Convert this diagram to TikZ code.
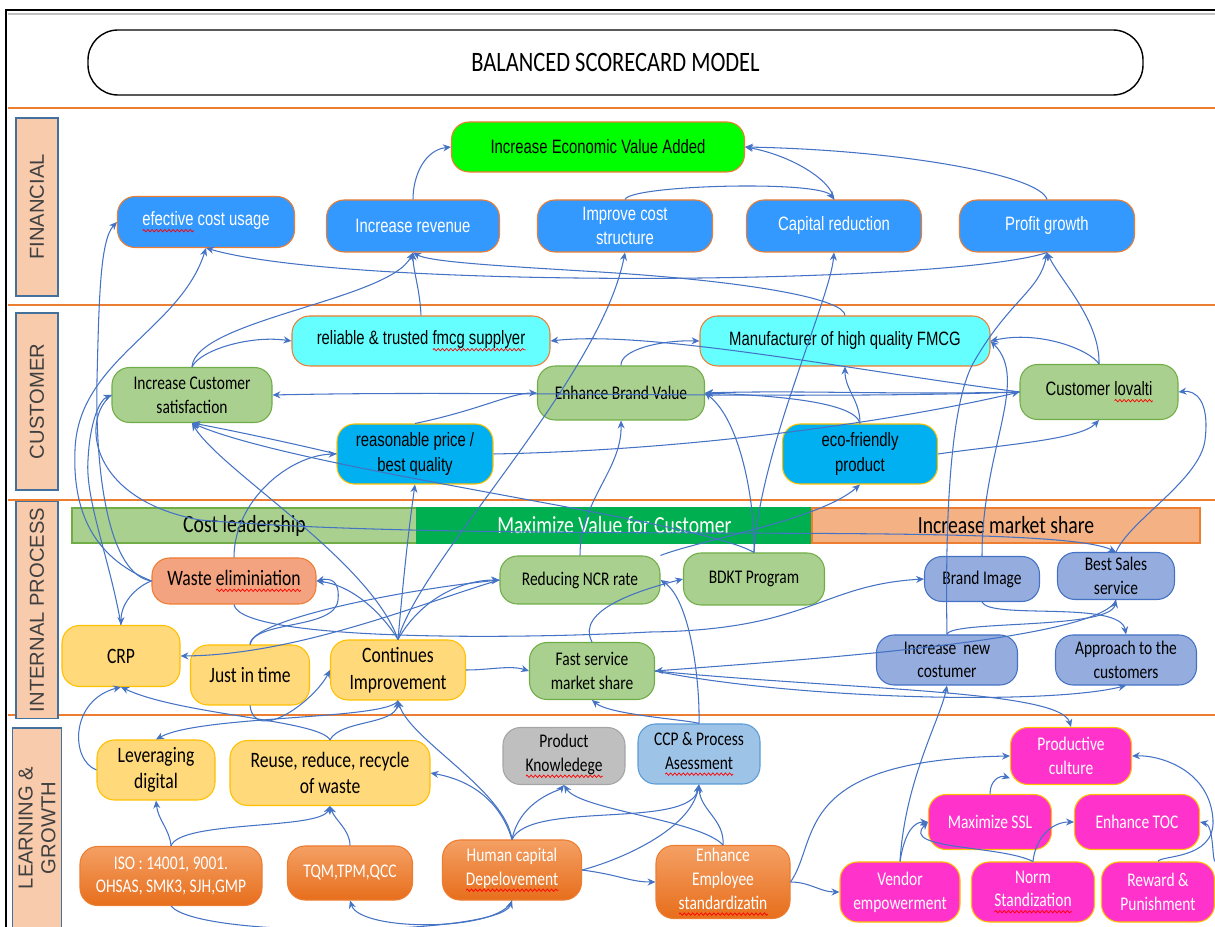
\documentclass[tikz,border=0pt]{standalone}
\usepackage{fontspec}
\setmainfont{Carlito}[FakeStretch=0.8]
\newfontfamily\narrowfont{Liberation Sans}[FakeStretch=0.77]
\newfontfamily\sidefont{Liberation Sans}
\usetikzlibrary{arrows.meta, decorations.pathmorphing}

% colours of the scorecard
\definecolor{arrowblue}{HTML}{4472C4}
\definecolor{orgline}{HTML}{ED7D31}
\definecolor{finblue}{HTML}{3399FF}
\definecolor{evagreen}{HTML}{00FF00}
\definecolor{cyanbox}{HTML}{66FFFF}
\definecolor{custgreen}{HTML}{A9D08E}
\definecolor{custgreenline}{HTML}{70AD47}
\definecolor{skyblue}{HTML}{00B0F0}
\definecolor{goldline}{HTML}{FFC000}
\definecolor{darkgreen}{HTML}{00B050}
\definecolor{peach}{HTML}{F4B183}
\definecolor{sidepeach}{HTML}{F8CBAD}
\definecolor{sideline}{HTML}{41719C}
\definecolor{salmon}{HTML}{F4A380}
\definecolor{yellowbox}{HTML}{FFD97A}
\definecolor{periwinkle}{HTML}{94ACDE}
\definecolor{periline}{HTML}{4472C4}
\definecolor{graybox}{HTML}{BFBFBF}
\definecolor{grayline}{HTML}{A5A5A5}
\definecolor{lightblue}{HTML}{9DC3E6}
\definecolor{lightblueline}{HTML}{5B9BD5}
\definecolor{orangetop}{HTML}{F4A064}
\definecolor{orangebottom}{HTML}{E76E1C}
\definecolor{magentabox}{HTML}{FF33CC}

\newcommand{\nfont}{\narrowfont\fontsize{11}{14}\selectfont}
\newcommand{\cfont}{\fontsize{11}{13.5}\selectfont}
\newcommand{\bigcfont}{\fontsize{12.5}{15}\selectfont}

% red spell-check wave under a word
\newsavebox{\sqbox}
\newcommand{\sq}[1]{\sbox{\sqbox}{#1}%
  \rlap{\tikz[x=1pt, y=1pt, baseline=0pt, sharp corners]
    \draw[red, line width=0.4pt, decorate,
          decoration={zigzag, segment length=2.4pt, amplitude=0.7pt}]
      (0,-2.8) -- (\the\wd\sqbox,-2.8);}#1}

\tikzset{
  sz/.style 2 args={minimum width=#1*0.2mm, minimum height=#2*0.2mm},
  box/.style={rounded corners=3.5mm, inner sep=1pt, align=center, line width=0.6pt},
  finbox/.style={box, fill=finblue, draw=orgline, text=white, font=\nfont},
  evabox/.style={box, fill=evagreen, draw=orgline, font=\nfont},
  cyanbx/.style={box, fill=cyanbox, draw=orgline, font=\nfont},
  greenbox/.style={box, fill=custgreen, draw=custgreenline, font=\cfont},
  skybox/.style={box, fill=skyblue, draw=goldline, font=\nfont},
  wastebox/.style={box, fill=salmon, draw=orgline, font=\bigcfont},
  yellbox/.style={box, fill=yellowbox, draw=goldline, font=\bigcfont},
  peribox/.style={box, fill=periwinkle, draw=periline, font=\cfont},
  greybox/.style={box, fill=graybox, draw=grayline, font=\cfont},
  ccpbox/.style={box, fill=lightblue, draw=lightblueline, font=\cfont},
  orbox/.style={box, top color=orangetop, bottom color=orangebottom, draw=orgline, text=white, font=\cfont},
  magbox/.style={box, fill=magentabox, draw=goldline, text=white, font=\cfont},
  bar/.style={inner sep=0pt, line width=0.6pt, font=\fontsize{14}{16}\selectfont},
  sidelabel/.style={rotate=90, fill=sidepeach, draw=sideline, line width=0.6pt, align=center,
    text=black!75, font=\sidefont\fontsize{11.5}{13}\selectfont},
  sep/.style={orgline, line width=1.2pt},
  con/.style={draw=arrowblue, line width=0.6pt, -{Stealth[length=4.5pt,width=4pt]}},
}

\begin{document}
\begin{tikzpicture}[x=0.2mm, y=-0.2mm]
  \useasboundingbox (0,0) rectangle (1215,927);

  % frame and title
  \draw[line width=1.4pt] (6,927) -- (6,10) -- (1215,10);
  \draw[black!25, line width=0.8pt] (8,14) -- (1215,14);
  \node[draw, line width=0.8pt, rounded corners=6mm, sz={1055}{65},
        font=\fontsize{16}{18}\selectfont] (title) at (615.5,62.5) {BALANCED SCORECARD MODEL};

  % perspective separators
  \foreach \yy in {108,305,500,715}
    \draw[sep] (8,\yy) -- (1215,\yy);

  % perspective labels on the left
  \node[sidelabel, sz={178}{42}] (finlab) at (37,207) {FINANCIAL};
  \node[sidelabel, sz={177}{42}] (custlab) at (37,401.5) {CUSTOMER};
  \node[sidelabel, sz={206}{42}] (intlab) at (37,610) {INTERNAL PROCESS};
  \node[sidelabel, sz={200}{42}] (lrnlab) at (37,828) {LEARNING \&\\GROWTH};

  % ---- financial ----
  \node[evabox, sz={293}{50}] (eva) at (598,147) {Increase Economic Value Added};
  \node[finbox, sz={177}{51}] (ecu) at (206,222) {\sq{efective} cost usage};
  \node[finbox, sz={173}{52}] (rev) at (413,226) {Increase revenue};
  \node[finbox, sz={175}{52}] (cost) at (625,226) {Improve cost\\structure};
  \node[finbox, sz={175}{52}] (cap) at (834,226) {Capital reduction};
  \node[finbox, sz={175}{52}] (pg) at (1047,226) {Profit growth};

  % ---- customer ----
  \node[cyanbx, sz={258}{50}] (rel) at (421,341) {reliable \& trusted \sq{fmcg supplyer}};
  \node[cyanbx, sz={290}{50}] (mfg) at (845,341) {Manufacturer of high quality FMCG};
  \node[greenbox, sz={160}{55}] (csat) at (192,395) {Increase Customer\\satisfaction};
  \node[greenbox, sz={167}{54}] (ebv) at (621,393) {Enhance Brand Value};
  \node[greenbox, sz={158}{55}, font=\nfont] (loy) at (1099,392) {Customer \sq{lovalti}};
  \node[skybox, sz={156}{60}] (rpq) at (415,454) {reasonable price /\\best quality};
  \node[skybox, sz={155}{60}] (eco) at (860,454) {eco-friendly\\product};

  % ---- internal process ----
  \node[bar, fill=custgreen, draw=custgreenline, sz={345}{35}] (barcost) at (244.5,525.5) {Cost leadership};
  \node[bar, fill=darkgreen, draw=darkgreen, text=white, sz={395}{35}] (barvalue) at (614.5,525.5) {Maximize Value for Customer};
  \node[bar, fill=peach, draw=orgline, sz={388}{35}] (barshare) at (1006,525.5) {Increase market share};

  \node[wastebox, sz={164}{46}] (waste) at (234,581) {Waste \sq{eliminiation}};
  \node[greenbox, sz={160}{48}] (ncr) at (580,580) {Reducing NCR rate};
  \node[greenbox, sz={141}{52}] (bdkt) at (754,579) {BDKT Program};
  \node[peribox, sz={115}{45}] (bimg) at (982,579) {Brand Image};
  \node[peribox, sz={117}{47}] (bss) at (1116,576) {Best Sales\\service};
  \node[yellbox, sz={118}{61}] (crp) at (121,656) {CRP};
  \node[yellbox, sz={119}{60}] (jit) at (250,675) {Just in time};
  \node[yellbox, sz={135}{60}] (ci) at (398,670) {Continues\\Improvement};
  \node[greenbox, sz={125}{57}] (fsm) at (592,671) {Fast service\\market share};
  \node[peribox, sz={141}{50}] (inc) at (947,660) {Increase~~new\\costumer};
  \node[peribox, sz={141}{50}] (appr) at (1126,660) {Approach to the\\customers};

  % ---- learning & growth ----
  \node[yellbox, sz={118}{60}] (lev) at (156,770) {Leveraging\\digital};
  \node[yellbox, sz={200}{65}] (rrr) at (330,773) {Reuse, reduce, recycle\\of waste};
  \node[greybox, sz={122}{57}] (pk) at (564,756) {Product\\\sq{Knowledege}};
  \node[ccpbox, sz={122}{60}] (ccp) at (699,754) {CCP \& Process\\\sq{Asessment}};
  \node[magbox, sz={121}{57}] (pc) at (1071,756) {Productive\\culture};
  \node[magbox, sz={123}{55}] (ssl) at (990,822) {Maximize SSL};
  \node[magbox, sz={125}{55}] (toc) at (1137,822) {Enhance TOC};
  \node[orbox, sz={182}{59}] (iso) at (171,876) {ISO : 14001, 9001.\\OHSAS, SMK3, SJH,GMP};
  \node[orbox, sz={125}{54}] (tqm) at (350,873) {TQM,TPM,QCC};
  \node[orbox, sz={139}{60}] (hcd) at (512,870) {Human capital\\\sq{Depelovement}};
  \node[orbox, sz={134}{73}] (ees) at (723,882) {Enhance\\Employee\\\sq{standardizatin}};
  \node[magbox, sz={120}{60}] (ven) at (900,892) {Vendor\\empowerment};
  \node[magbox, sz={123}{60}] (norm) at (1033,892) {Norm\\\sq{Standization}};
  \node[magbox, sz={113}{60}] (rew) at (1158,892) {Reward \&\\Punishment};

  % ---- links inside financial ----
  \draw[con] (rev.north) .. controls (413,175) and (425,150) .. (eva.west);
  \draw[con] (cap.north) .. controls (832,180) and (790,155) .. (eva.east);
  \draw[con] (pg.north) .. controls (1040,175) and (900,150) .. (eva.east);
  \draw[con] (cost.north) .. controls (630,185) and (820,180) .. (cap.north);
  \draw[con] (pg.south) .. controls (950,285) and (350,290) .. (ecu.south);

  % customer -> financial
  \draw[con] (rel.north) .. controls (420,290) and (413,270) .. (rev.south);
  \draw[con] (csat.north) .. controls (195,320) and (390,300) .. (rev.south);
  \draw[con] (csat.north) .. controls (200,350) and (250,335) .. (rel.west);
  \draw[con] (mfg.north) .. controls (845,300) and (760,282) .. (600,272)
                         .. controls (500,266) and (430,262) .. (rev.south);
  \draw[con] (bdkt.north) .. controls (760,450) and (830,300) .. (cap.south);
  \draw[con] (loy.north) .. controls (1100,320) and (1060,280) .. (pg.south);
  \draw[con] (inc.north) .. controls (945,520) and (950,400) .. (975,360)
                         .. controls (1010,300) and (1040,290) .. (pg.south);
  \draw[con] (ci.north) .. controls (420,560) and (600,380) .. (cost.south);
  \draw[con] (waste.west) .. controls (110,575) and (95,480) .. (97,380)
                          .. controls (99,300) and (100,240) .. (ecu.west);
  \draw[con] (waste.west) .. controls (100,560) and (72,520) .. (75,450)
                          .. controls (78,360) and (180,330) .. (ecu.south);

  % links inside customer
  \draw[con] (ebv.north) .. controls (620,350) and (660,340) .. (mfg.west);
  \draw[con] (loy.north) .. controls (1090,350) and (1040,330) .. (mfg.east);
  \draw[con] (bimg.north) .. controls (982,450) and (1030,380) .. (mfg.east);
  \draw[con] (eco.north) .. controls (860,400) and (845,390) .. (mfg.south);
  \draw[con] (eco.north) .. controls (855,400) and (760,395) .. (ebv.east);
  \draw[con] (loy.west) .. controls (900,395) and (800,390) .. (ebv.east);
  \draw[con] (bdkt.north) .. controls (755,500) and (740,420) .. (ebv.east);
  \draw[con] (ncr.north) .. controls (580,500) and (622,470) .. (ebv.south);
  \draw[con] (rpq.north) .. controls (480,410) and (510,393) .. (ebv.west);
  \draw[con] (loy.west) .. controls (850,370) and (650,330) .. (rel.east);
  \draw[con] (loy.west) .. controls (800,400) and (500,390) .. (csat.east);
  \draw[con] (rpq.west) .. controls (300,445) and (230,430) .. (csat.south);
  \draw[con] (ci.north) .. controls (370,560) and (220,470) .. (csat.south);
  \draw[con] (bdkt.north) .. controls (700,520) and (300,470) .. (csat.south);
  \draw[con] (crp.north) .. controls (110,560) and (85,500) .. (88,460)
                         .. controls (90,420) and (100,400) .. (csat.west);
  \draw[con] (waste.north) .. controls (234,500) and (290,455) .. (rpq.west);
  \draw[con] (ci.north) .. controls (405,560) and (410,520) .. (rpq.south);
  \draw[con] (rpq.east) .. controls (700,450) and (900,420) .. (loy.west);
  \draw[con] (eco.east) .. controls (1000,445) and (1080,440) .. (loy.south);
  \draw[con] (bss.north) .. controls (1130,520) and (1200,480) .. (1205,440)
                         .. controls (1210,400) and (1195,390) .. (loy.east);
  \draw[con] (ncr.north east) .. controls (700,540) and (820,520) .. (eco.south);
  \draw[con] (csat.west) .. controls (80,420) and (90,500) .. (200,520)
                         .. controls (500,545) and (1050,520) .. (bss.north);

  % links inside internal process
  \draw[con] (ci.north) .. controls (380,610) and (350,585) .. (waste.east);
  \draw[con] (jit.north) .. controls (255,620) and (335,630) .. (338,600)
                         .. controls (340,580) and (330,578) .. (waste.east);
  \draw[con] (ci.north) .. controls (420,600) and (460,580) .. (ncr.west);
  \draw[con] (jit.north) .. controls (250,620) and (400,590) .. (ncr.west);
  \draw[con] (ncr.west) .. controls (430,600) and (300,655) .. (crp.east);
  \draw[con] (waste.west) .. controls (140,585) and (121,600) .. (crp.north);
  \draw[con] (waste.south) .. controls (240,640) and (500,640) .. (650,632)
                           .. controls (810,630) and (820,585) .. (bimg.west);
  \draw[con] (ci.east) .. controls (490,670) and (510,665) .. (fsm.west);
  \draw[con] (fsm.north) .. controls (575,610) and (640,590) .. (bdkt.west);
  \draw[con] (ccp.north) .. controls (700,680) and (690,600) .. (ncr.east);
  \draw[con] (inc.north) .. controls (950,620) and (1110,630) .. (bss.south);
  \draw[con] (bss.south) .. controls (1100,640) and (800,660) .. (fsm.east);
  \draw[con] (bimg.south) .. controls (990,620) and (1120,600) .. (appr.north);
  \draw[con] (fsm.east) .. controls (800,700) and (1050,705) .. (appr.south);
  \draw[con] (fsm.east) .. controls (850,690) and (1060,690) .. (pc.north);
  \draw[con] (ccp.north) .. controls (690,720) and (610,715) .. (fsm.south);

  % learning & growth -> internal process
  \draw[con] (lev.west) .. controls (70,760) and (70,700) .. (crp.south);
  \draw[con] (rrr.north) .. controls (320,720) and (180,715) .. (crp.south);
  \draw[con] (rrr.north) .. controls (340,720) and (395,725) .. (ci.south);
  \draw[con] (ci.south) .. controls (390,720) and (200,715) .. (lev.north);
  \draw[con] (jit.south) .. controls (255,745) and (315,700) .. (ci.west);
  \draw[con] (hcd.north) .. controls (505,790) and (410,740) .. (ci.south);
  \draw[con] (ven.north) .. controls (905,780) and (940,720) .. (inc.south);

  % links inside learning & growth
  \draw[con] (iso.north) .. controls (170,830) and (158,820) .. (lev.south);
  \draw[con] (iso.north) .. controls (180,820) and (320,830) .. (rrr.south);
  \draw[con] (tqm.north) .. controls (350,830) and (335,820) .. (rrr.south);
  \draw[con] (hcd.north) .. controls (500,800) and (470,780) .. (rrr.east);
  \draw[con] (hcd.north) .. controls (520,800) and (560,790) .. (pk.south);
  \draw[con] (iso.south) .. controls (200,940) and (500,935) .. (hcd.south);
  \draw[con] (hcd.south) .. controls (500,932) and (360,932) .. (tqm.south);
  \draw[con] (hcd.east) .. controls (620,875) and (630,882) .. (ees.west);
  \draw[con] (hcd.east) .. controls (620,860) and (690,830) .. (ccp.south);
  \draw[con] (hcd.north) .. controls (530,800) and (690,830) .. (ccp.south);
  \draw[con] (ees.north) .. controls (725,820) and (700,810) .. (ccp.south);
  \draw[con] (ees.north) .. controls (700,820) and (580,810) .. (pk.south);
  \draw[con] (ees.east) .. controls (810,882) and (820,892) .. (ven.west);
  \draw[con] (ees.east) .. controls (820,840) and (790,760) .. (pc.west);
  \draw[con] (ssl.north) .. controls (990,780) and (1000,775) .. (pc.200);
  \draw[con] (ven.north) .. controls (905,830) and (915,822) .. (ssl.west);
  \draw[con] (norm.north) .. controls (1000,845) and (900,850) .. (ssl.west);
  \draw[con] (norm.north) .. controls (1035,840) and (1050,822) .. (toc.west);
  \draw[con] (rew.north) .. controls (1160,855) and (1215,860) .. (1213,820)
                         .. controls (1210,770) and (1160,755) .. (pc.east);
  \draw[con] (rew.north east) .. controls (1212,860) and (1214,825) .. (toc.east);
\end{tikzpicture}
\end{document}
